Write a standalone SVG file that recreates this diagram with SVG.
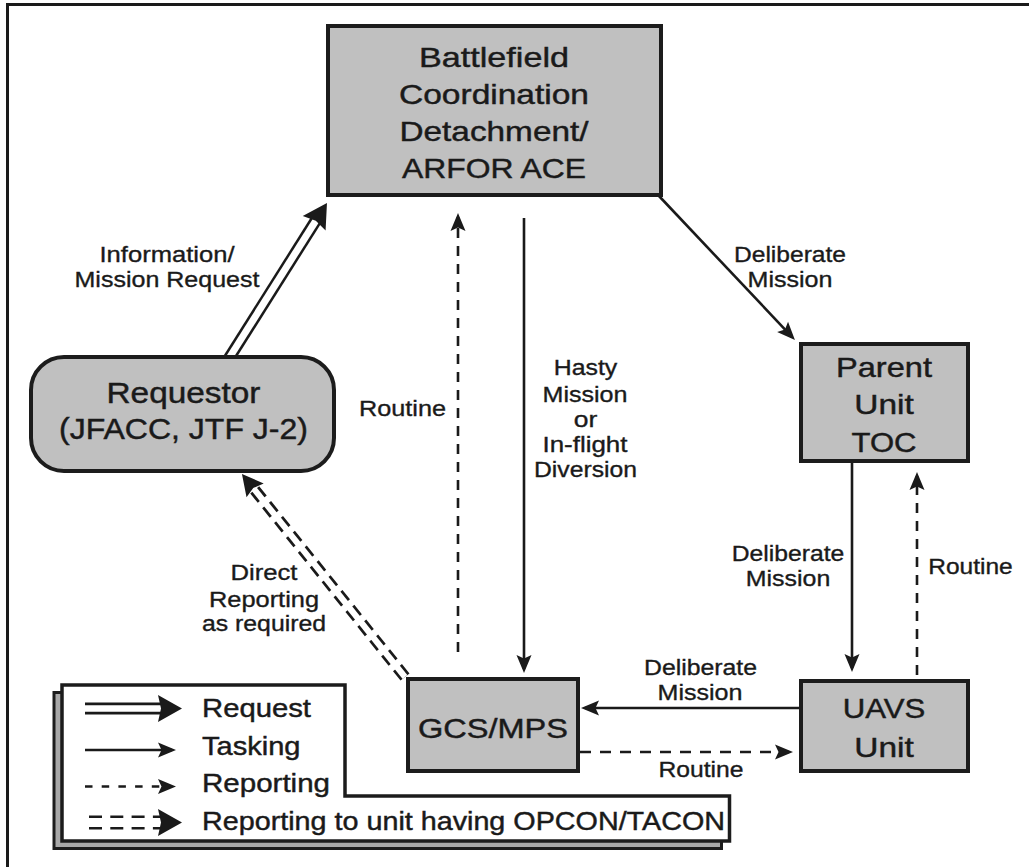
<svg xmlns="http://www.w3.org/2000/svg" width="1029" height="867" viewBox="0 0 1029 867">
<style>
text{font-family:"Liberation Sans",Arial,Helvetica,sans-serif;fill:#1a1a1a;stroke:#1a1a1a;stroke-width:0.45;text-anchor:middle}
.bx{font-size:28.5px}
.rq{font-size:29px}
.lb{font-size:22px;stroke-width:0.35}
.lg{font-size:26.5px;text-anchor:start}
.node{fill:#c0c0c0;stroke:#1c1c1c;stroke-width:4}
.ln{fill:none;stroke:#1a1a1a;stroke-width:2.6}
.ds{stroke-dasharray:10 8}
.wh{fill:none;stroke:#fff}
</style>
<defs>
<marker id="ah" markerUnits="userSpaceOnUse" markerWidth="18" markerHeight="16" viewBox="0 0 18 16" refX="14" refY="8" orient="auto" overflow="visible">
<path d="M0,0.5 L18,8 L0,15.5 L3.5,8 Z" fill="#1a1a1a"/>
</marker>
<marker id="ahB" markerUnits="userSpaceOnUse" markerWidth="24" markerHeight="27" viewBox="0 0 24 27" refX="10" refY="13.5" orient="auto" overflow="visible">
<path d="M0,0 L24,13.5 L0,27 L3,13.5 Z" fill="#1a1a1a"/>
</marker>
<marker id="ahM" markerUnits="userSpaceOnUse" markerWidth="21" markerHeight="22" viewBox="0 0 21 22" refX="8" refY="11" orient="auto" overflow="visible">
<path d="M0,0 L21,11 L0,22 L3,11 Z" fill="#1a1a1a"/>
</marker>
</defs>
<rect width="1029" height="867" fill="#fff"/>
<path d="M7.5,867 V4.5 H1029" fill="none" stroke="#1a1a1a" stroke-width="3"/>

<g id="connectors">
<path d="M225.7,363.5 L319.5,214.8" fill="none" stroke="#1a1a1a" stroke-width="12"/>
<path d="M225.7,363.5 L319.5,214.8" class="wh" stroke-width="7" marker-end="url(#ahB)"/>
<path d="M458,652 V217" class="ln ds" marker-end="url(#ah)"/>
<path d="M524,218 V669" class="ln" marker-end="url(#ah)"/>
<path d="M659,196 L792.2,337.1" class="ln" marker-end="url(#ah)"/>
<path d="M852,461 V668" class="ln" marker-end="url(#ah)"/>
<path d="M917,675 V476" class="ln ds" marker-end="url(#ah)"/>
<path d="M799,708 H585" class="ln" marker-end="url(#ah)"/>
<path d="M580,752 H789" class="ln" style="stroke-dasharray:11 9" marker-end="url(#ah)"/>
<path d="M405,677 L250.1,484.1" fill="none" stroke="#1a1a1a" stroke-width="11.5" stroke-dasharray="12 7"/>
<path d="M405,677 L250.1,484.1" class="wh" stroke-width="6" marker-end="url(#ahM)"/>
</g>

<g id="node-bcd">
<rect class="node" x="328" y="26" width="333" height="169"/>
<text class="bx" x="494" y="66.5" textLength="150" lengthAdjust="spacingAndGlyphs">Battlefield</text>
<text class="bx" x="494" y="104" textLength="190" lengthAdjust="spacingAndGlyphs">Coordination</text>
<text class="bx" x="494" y="141" textLength="189" lengthAdjust="spacingAndGlyphs">Detachment/</text>
<text class="bx" x="494" y="178" textLength="184" lengthAdjust="spacingAndGlyphs">ARFOR ACE</text>
</g>

<g id="node-requestor">
<rect class="node" x="31" y="357" width="303" height="114" rx="33" ry="33"/>
<text class="rq" x="183.5" y="403" textLength="154" lengthAdjust="spacingAndGlyphs">Requestor</text>
<text class="rq" x="183.5" y="439" textLength="249" lengthAdjust="spacingAndGlyphs">(JFACC, JTF J-2)</text>
</g>

<g id="node-parent">
<rect class="node" x="801" y="344" width="167" height="117"/>
<text class="bx" x="884" y="377" textLength="96" lengthAdjust="spacingAndGlyphs">Parent</text>
<text class="bx" x="884" y="413.5" textLength="59.5" lengthAdjust="spacingAndGlyphs">Unit</text>
<text class="bx" x="884" y="451.5" textLength="65" lengthAdjust="spacingAndGlyphs">TOC</text>
</g>

<g id="node-uavs">
<rect class="node" x="801" y="681" width="167" height="90"/>
<text class="bx" x="884" y="718" textLength="82.5" lengthAdjust="spacingAndGlyphs">UAVS</text>
<text class="bx" x="884" y="756.5" textLength="59.5" lengthAdjust="spacingAndGlyphs">Unit</text>
</g>

<g id="node-gcs">
<rect class="node" x="408" y="679" width="170" height="92"/>
<text class="bx" x="493" y="738" textLength="150" lengthAdjust="spacingAndGlyphs">GCS/MPS</text>
</g>

<g id="labels">
<text class="lb" x="167" y="262" textLength="135" lengthAdjust="spacingAndGlyphs">Information/</text>
<text class="lb" x="167" y="287" textLength="185" lengthAdjust="spacingAndGlyphs">Mission Request</text>
<text class="lb" x="402.5" y="416" textLength="87" lengthAdjust="spacingAndGlyphs">Routine</text>
<text class="lb" x="790" y="262" textLength="112" lengthAdjust="spacingAndGlyphs">Deliberate</text>
<text class="lb" x="790" y="287" textLength="85" lengthAdjust="spacingAndGlyphs">Mission</text>
<text class="lb" x="585.5" y="375" textLength="63.5" lengthAdjust="spacingAndGlyphs">Hasty</text>
<text class="lb" x="585" y="401.5" textLength="85" lengthAdjust="spacingAndGlyphs">Mission</text>
<text class="lb" x="585.5" y="426.5" textLength="23.5" lengthAdjust="spacingAndGlyphs">or</text>
<text class="lb" x="585" y="451.5" textLength="85" lengthAdjust="spacingAndGlyphs">In-flight</text>
<text class="lb" x="585.5" y="476.5" textLength="103" lengthAdjust="spacingAndGlyphs">Diversion</text>
<text class="lb" x="788" y="561" textLength="112.5" lengthAdjust="spacingAndGlyphs">Deliberate</text>
<text class="lb" x="788" y="586" textLength="84.5" lengthAdjust="spacingAndGlyphs">Mission</text>
<text class="lb" x="970.5" y="574" textLength="84.5" lengthAdjust="spacingAndGlyphs">Routine</text>
<text class="lb" x="700.5" y="675" textLength="113" lengthAdjust="spacingAndGlyphs">Deliberate</text>
<text class="lb" x="700" y="700" textLength="85" lengthAdjust="spacingAndGlyphs">Mission</text>
<text class="lb" x="701" y="777" textLength="85" lengthAdjust="spacingAndGlyphs">Routine</text>
<text class="lb" x="264" y="580" textLength="67" lengthAdjust="spacingAndGlyphs">Direct</text>
<text class="lb" x="264" y="606.5" textLength="110" lengthAdjust="spacingAndGlyphs">Reporting</text>
<text class="lb" x="264" y="630.5" textLength="124" lengthAdjust="spacingAndGlyphs">as required</text>
</g>

<g id="legend">
<path d="M54,692.5 H338 V803.5 H721.5 V848.5 H54 Z" fill="#a8a8a8" stroke="#1c1c1c" stroke-width="3"/>
<path d="M62,685 H345 V796 H729.5 V841 H62 Z" fill="#fff" stroke="#1c1c1c" stroke-width="3.5"/>
<path d="M85,708.5 H168" fill="none" stroke="#1a1a1a" stroke-width="12"/>
<path d="M85,708.5 H168" class="wh" stroke-width="6.5" marker-end="url(#ahB)"/>
<path d="M85,750 H172" class="ln" marker-end="url(#ah)"/>
<path d="M85,786.5 H172" class="ln" style="stroke-dasharray:7.5 9.2" marker-end="url(#ah)"/>
<path d="M89,822.5 H168" fill="none" stroke="#1a1a1a" stroke-width="14" stroke-dasharray="13 8.3"/>
<path d="M89,822.5 H168" class="wh" stroke-width="9" marker-end="url(#ahB)"/>
<text class="lg" x="202" y="717" textLength="109" lengthAdjust="spacingAndGlyphs">Request</text>
<text class="lg" x="202" y="755" textLength="98.5" lengthAdjust="spacingAndGlyphs">Tasking</text>
<text class="lg" x="202" y="792" textLength="128" lengthAdjust="spacingAndGlyphs">Reporting</text>
<text class="lg" x="202" y="830" textLength="523" lengthAdjust="spacingAndGlyphs">Reporting to unit having OPCON/TACON</text>
</g>
</svg>
